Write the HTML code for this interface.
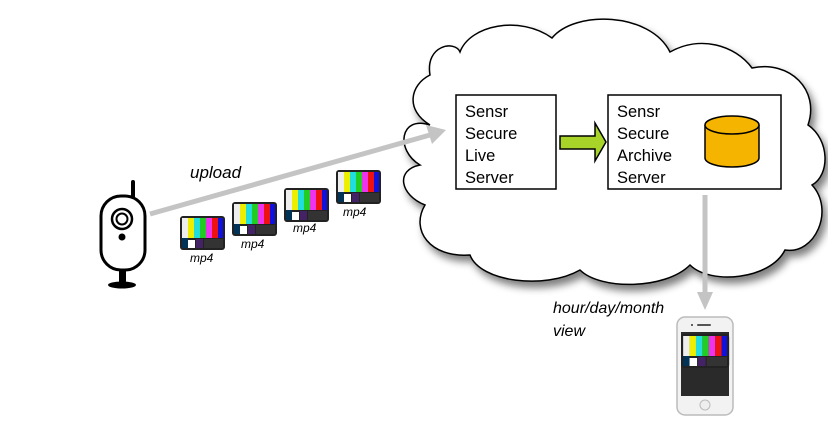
<!DOCTYPE html>
<html><head><style>body{margin:0;background:#fff}svg{display:block}text{font-family:"Liberation Sans",sans-serif}</style></head><body>
<svg width="828" height="432" viewBox="0 0 828 432" xmlns="http://www.w3.org/2000/svg">
<defs>
<filter id="sh" x="-10%" y="-10%" width="130%" height="130%"><feGaussianBlur in="SourceAlpha" stdDeviation="4"/><feOffset dx="4" dy="6"/><feComponentTransfer><feFuncA type="linear" slope="0.5"/></feComponentTransfer><feMerge><feMergeNode/><feMergeNode in="SourceGraphic"/></feMerge></filter>
<g id="tv">
<rect x="0" y="0" width="45" height="34" rx="3" fill="#222"/>
<rect x="2" y="2" width="6" height="20" fill="#eee"/><rect x="8" y="2" width="6" height="20" fill="#ee0"/><rect x="14" y="2" width="6" height="20" fill="#2dd"/><rect x="20" y="2" width="6" height="20" fill="#2c2"/><rect x="26" y="2" width="6" height="20" fill="#e3e"/><rect x="32" y="2" width="6" height="20" fill="#e11"/><rect x="38" y="2" width="5" height="20" fill="#11d"/>
<rect x="2" y="22" width="6" height="10" fill="#035"/><rect x="8" y="24" width="7" height="8" fill="#fff"/><rect x="16" y="23" width="7" height="9" fill="#426"/><rect x="24" y="23" width="19" height="9" fill="#333"/>
</g>
</defs>
<path filter="url(#sh)" d="M430 75 C425 45 455 40 460 52 C470 25 520 15 552 38 C575 10 650 12 670 52 C700 35 735 45 752 68 C790 60 820 90 808 125 C830 140 830 175 812 185 C835 210 815 255 785 250 C770 280 710 285 690 265 C665 290 600 290 580 270 C545 290 480 282 470 255 C430 258 410 230 425 205 C400 195 395 170 420 165 C395 150 400 115 430 125 C405 110 410 85 430 75 Z" fill="#fff" stroke="#000" stroke-width="1.5"/>
<rect x="456" y="95" width="100" height="94" fill="#fff" stroke="#000" stroke-width="1.5"/>
<g font-size="16.5"><text x="465" y="117">Sensr</text><text x="465" y="139">Secure</text><text x="465" y="161">Live</text><text x="465" y="183">Server</text></g>
<rect x="608" y="95" width="173" height="94" fill="#fff" stroke="#000" stroke-width="1.5"/>
<g font-size="16.5"><text x="617" y="117">Sensr</text><text x="617" y="139">Secure</text><text x="617" y="161">Archive</text><text x="617" y="183">Server</text></g>
<path d="M705 125 V158 A27 9 0 0 0 759 158 V125" fill="#f5b400" stroke="#000" stroke-width="1.5"/>
<ellipse cx="732" cy="125" rx="27" ry="9" fill="#f5b400" stroke="#000" stroke-width="1.5"/>
<path d="M560 136 H595 V123 L606 142 L595 161 V149 H560 Z" fill="#a8d42a" stroke="#000" stroke-width="1.5"/>
<line x1="150" y1="214" x2="430" y2="135" stroke="#c4c4c4" stroke-width="5"/>
<path d="M446 130 L426 125 L432 144 Z" fill="#c4c4c4"/>
<line x1="705" y1="195" x2="705" y2="296" stroke="#c4c4c4" stroke-width="5"/>
<path d="M697 292 L713 292 L705 310 Z" fill="#c4c4c4"/>
<text font-size="17" font-style="italic" x="190" y="178">upload</text>
<text font-size="16" font-style="italic" x="553" y="313">hour/day/month</text>
<text font-size="16" font-style="italic" x="553" y="336">view</text>
<rect x="131" y="180" width="4" height="20" rx="2" fill="#000"/>
<rect x="101" y="196" width="44" height="74" rx="20" fill="#fff" stroke="#000" stroke-width="3"/>
<circle cx="122" cy="219" r="10" fill="#fff" stroke="#000" stroke-width="2.5"/>
<circle cx="122" cy="219" r="5.5" fill="#fff" stroke="#000" stroke-width="2"/>
<circle cx="122" cy="237" r="3.5" fill="#000"/>
<rect x="119" y="270" width="7" height="12" fill="#000"/>
<ellipse cx="122" cy="285" rx="14" ry="3.5" fill="#000"/>
<use href="#tv" x="180" y="216"/><text font-size="12" font-style="italic" x="190" y="262">mp4</text>
<use href="#tv" x="232" y="202"/><text font-size="12" font-style="italic" x="241" y="248">mp4</text>
<use href="#tv" x="284" y="188"/><text font-size="12" font-style="italic" x="293" y="232">mp4</text>
<use href="#tv" x="336" y="170"/><text font-size="12" font-style="italic" x="343" y="216">mp4</text>
<rect x="677" y="317" width="56" height="98" rx="8" fill="#f2f2f2" stroke="#bbb" stroke-width="1.5"/>
<rect x="681" y="332" width="48" height="64" fill="#2a2a2a"/>
<g transform="translate(681,334) scale(1.07,1.0)"><use href="#tv"/></g>
<rect x="697" y="324" width="14" height="2" rx="1" fill="#555"/><circle cx="692" cy="325" r="1" fill="#333"/>
<circle cx="705" cy="405" r="5" fill="#eee" stroke="#bbb"/>
</svg>
</body></html>
